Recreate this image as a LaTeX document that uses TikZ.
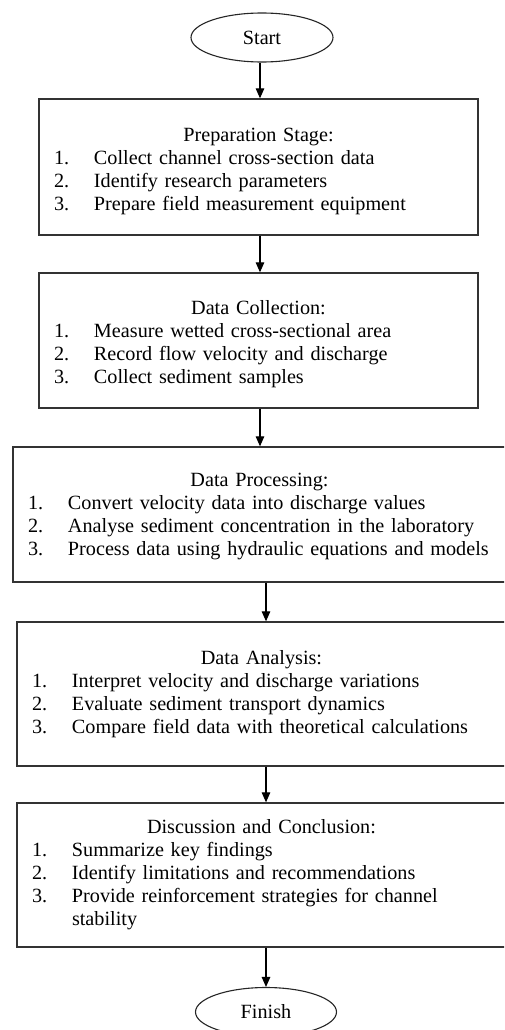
\documentclass[tikz,border=0pt]{standalone}
\usepackage{fontspec}
\setmainfont{Liberation Serif}
\usetikzlibrary{arrows.meta,shapes.geometric}
\newcommand\stepitem[2]{\par\hspace*{15pt}\makebox[40pt][l]{#1}#2}
\newcommand\steptitle[2][0pt]{\makebox[\linewidth][c]{\rule{0pt}{\dimexpr 14pt+#1\relax}#2}}
\tikzset{
  every node/.style={font=\fontsize{20.2}{23}\selectfont},
  term/.style={ellipse, draw=black!85, line width=1.1pt, inner sep=0pt},
  stagebox/.style={rectangle, draw=black!80, line width=1.3pt, inner xsep=0pt, inner ysep=0pt, align=left},
  arr/.style={draw=black, line width=1.1pt, -{Triangle[width=8.5pt,length=10pt]}}
}
\begin{document}
\begin{tikzpicture}[x=1pt,y=-1pt]
\useasboundingbox (0,0) rectangle (504,1030);
\clip (0,0) rectangle (504,1030);
\fill[white] (0,0) rectangle (504,1030);

\node[term, minimum width=142pt, minimum height=49pt] (start) at (262,37.5) {Start};

\node[stagebox, minimum width=439pt, minimum height=136pt, text width=439pt] (b1) at (258.5,167)
{\steptitle[8pt]{Preparation Stage:}
 \stepitem{1.}{Collect channel cross-section data}
 \stepitem{2.}{Identify research parameters}
 \stepitem{3.}{Prepare field measurement equipment}};

\node[stagebox, minimum width=439pt, minimum height=135pt, text width=439pt] (b2) at (258.5,340.5)
{\steptitle[8pt]{Data Collection:}
 \stepitem{1.}{Measure wetted cross-sectional area}
 \stepitem{2.}{Record flow velocity and discharge}
 \stepitem{3.}{Collect sediment samples}};

\node[stagebox, minimum width=493pt, minimum height=135pt, text width=493pt] (b3) at (259.5,514.5)
{\steptitle[4pt]{Data Processing:}
 \stepitem{1.}{Convert velocity data into discharge values}
 \stepitem{2.}{Analyse sediment concentration in the laboratory}
 \stepitem{3.}{Process data using hydraulic equations and models}};

\node[stagebox, minimum width=489pt, minimum height=144pt, text width=489pt] (b4) at (261.5,694)
{\steptitle{Data Analysis:}
 \stepitem{1.}{Interpret velocity and discharge variations}
 \stepitem{2.}{Evaluate sediment transport dynamics}
 \stepitem{3.}{Compare field data with theoretical calculations}};

\node[stagebox, minimum width=489pt, minimum height=144pt, text width=489pt] (b5) at (261.5,875)
{\steptitle{Discussion and Conclusion:}
 \stepitem{1.}{Summarize key findings}
 \stepitem{2.}{Identify limitations and recommendations}
 \stepitem{3.}{Provide reinforcement strategies for channel}
 \par\hspace*{55pt}stability};

\node[term, minimum width=141pt, minimum height=49pt] (finish) at (266,1012) {Finish};

\draw[arr] ([xshift=-2pt]start.south) -- ([xshift=-2pt]start.south |- b1.north);
\draw[arr] ([xshift=1.5pt]b1.south) -- ([xshift=1.5pt]b1.south |- b2.north);
\draw[arr] ([xshift=1.5pt]b2.south) -- ([xshift=1.5pt]b2.south |- b3.north);
\draw[arr] ([xshift=6.5pt]b3.south) -- ([xshift=6.5pt]b3.south |- b4.north);
\draw[arr] ([xshift=4.5pt]b4.south) -- ([xshift=4.5pt]b4.south |- b5.north);
\draw[arr] ([xshift=4.5pt]b5.south) -- (finish.north);
\end{tikzpicture}
\end{document}
